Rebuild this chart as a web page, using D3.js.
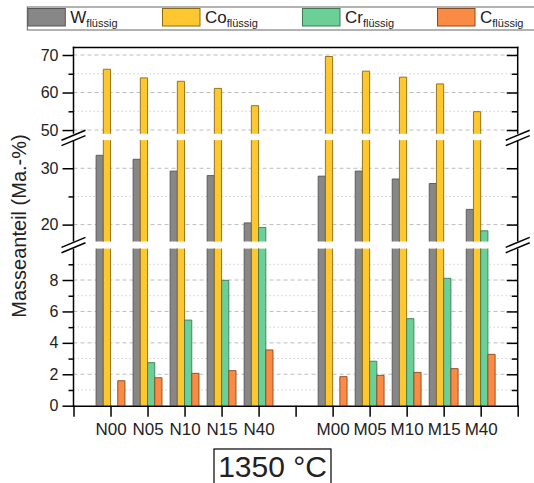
<!DOCTYPE html>
<html><head><meta charset="utf-8">
<script src="https://cdn.jsdelivr.net/npm/d3@7"></script>
<style>body{margin:0;background:#fff} svg{display:block} text{font-family:"Liberation Sans",Arial,sans-serif;fill:#222}</style>
</head><body><svg id="c" width="534" height="483"></svg>
<script>
// ---------- data ----------
const categories = ["N00","N05","N10","N15","N40","M00","M05","M10","M15","M40"];
const slots = ["s0","N00","N05","N10","N15","N40","s6","M00","M05","M10","M15","M40","s12"];
const seriesNames = ["W","Co","Cr","C"];
const W  = [32.3,31.6,29.5,28.7,20.3,28.6,29.5,28.1,27.3,22.7];
const Co = [66.2,63.9,63.0,61.1,56.5,69.6,65.7,64.1,62.3,54.9];
const Cr = [0,2.74,5.45,7.98,19.5,0,2.83,5.54,8.11,18.9];
const C  = [1.59,1.78,2.06,2.23,3.55,1.85,1.93,2.12,2.36,3.27];
const segDomains = [[0,10],[17,35],[49,72]];
const segMajor = [[0,2,4,6,8],[20,30],[50,60,70]];
const segMinor = [[1,3,5,7,9],[25],[55,65]];
const yLabel = "Masseanteil (Ma.-%)";
const tempLabel = "1350 °C";
const subLabel = "flüssig";

// ---------- layout ----------
const colors = ["#878787","#fdc82f","#6ccf97","#fa8b45"];
const strokes = ["#555","#8a6a12","#3d7a55","#8a4a20"];
const pLeft = 73.5, pRight = 517.7, pTop = 47.5, pBottom = 405.7;
const segRanges = [[pBottom,248.6],[241.5,140.1],[133.8,pTop]];
const svg = d3.select("#c");
const series = [W,Co,Cr,C];

const x = d3.scalePoint().domain(slots).range([pLeft,pRight]);
const bw = x.step()*0.195;
const ys = segDomains.map((d,i)=>d3.scaleLinear().domain(d).range(segRanges[i]));

// gridlines
ys.forEach((y,i)=>{
  svg.append("g").selectAll("line").data(segMajor[i].filter(v=>v>0)).join("line")
    .attr("x1",pLeft).attr("x2",pRight).attr("y1",d=>y(d)).attr("y2",d=>y(d))
    .attr("stroke","#bdbdbd").attr("stroke-width",1).attr("stroke-dasharray","4,3");
  svg.append("g").selectAll("line").data(segMinor[i]).join("line")
    .attr("x1",pLeft).attr("x2",pRight).attr("y1",d=>y(d)).attr("y2",d=>y(d))
    .attr("stroke","#d0d0d0").attr("stroke-width",1).attr("stroke-dasharray","1.5,2.5");
});

// bars
const bars = svg.append("g");
series.forEach((vals,s)=>{
  vals.forEach((v,i)=>{
    if(!(v>0)) return;
    const cx = x(categories[i]) + (s-2)*bw;
    ys.forEach((y,k)=>{
      const [d0,d1] = segDomains[k];
      if(v<=d0) return;
      const tv = Math.min(v,d1);
      const y0 = y(d0), y1 = y(tv);
      bars.append("rect").attr("x",cx).attr("y",y1).attr("width",bw).attr("height",y0-y1)
        .attr("fill",colors[s]);
      let p = `M${cx},${y0}V${y1}`;
      p += (v<=d1) ? `H${cx+bw}` : `M${cx+bw},${y1}`;
      p += `V${y0}`;
      bars.append("path").attr("d",p).attr("fill","none").attr("stroke",strokes[s]).attr("stroke-width",0.9);
    });
  });
});

// axes
ys.forEach((y,i)=>{
  const gL = svg.append("g").attr("transform",`translate(${pLeft},0)`)
    .call(d3.axisLeft(y).tickValues(segMajor[i]).tickSize(11).tickPadding(4).tickFormat(d3.format("d")));
  gL.select(".domain").remove();
  gL.selectAll("text").attr("font-size",16).attr("font-family","Liberation Sans, Arial, sans-serif").attr("fill","#222");
  gL.selectAll("line").attr("stroke","#000").attr("stroke-width",1.5);
  const gLm = svg.append("g").attr("transform",`translate(${pLeft},0)`)
    .call(d3.axisLeft(y).tickValues(segMinor[i]).tickSize(5).tickFormat(""));
  gLm.select(".domain").remove();
  gLm.selectAll("line").attr("stroke","#000").attr("stroke-width",1.5);
  const gR = svg.append("g").attr("transform",`translate(${pRight},0)`)
    .call(d3.axisRight(y).tickValues(segMajor[i].filter(v=>v>0)).tickSize(-11).tickFormat(""));
  gR.select(".domain").remove();
  gR.selectAll("line").attr("stroke","#000").attr("stroke-width",1.5);
  const gRm = svg.append("g").attr("transform",`translate(${pRight},0)`)
    .call(d3.axisRight(y).tickValues(segMinor[i]).tickSize(-6).tickFormat(""));
  gRm.select(".domain").remove();
  gRm.selectAll("line").attr("stroke","#000").attr("stroke-width",1.5);
  [pLeft,pRight].forEach(xx=>{
    svg.append("line").attr("x1",xx).attr("x2",xx).attr("y1",segRanges[i][0]+(i===0?0.75:0)).attr("y2",segRanges[i][1]-(i===2?0.75:0))
      .attr("stroke","#000").attr("stroke-width",1.5);
  });
});
// top frame
svg.append("line").attr("x1",pLeft-0.75).attr("x2",pRight+0.75).attr("y1",pTop).attr("y2",pTop).attr("stroke","#000").attr("stroke-width",1.5);

// x axis
const gx = svg.append("g").attr("transform",`translate(0,${pBottom})`)
  .call(d3.axisBottom(x).tickSize(11).tickPadding(6).tickFormat(d=>categories.includes(d)?d:""));
gx.select(".domain").attr("d",`M${pLeft-0.75},0.5H${pRight+0.75}`).attr("stroke","#000").attr("stroke-width",1.5);
gx.selectAll("line").attr("stroke","#000").attr("stroke-width",1.5);
gx.selectAll("text").attr("font-size",17).attr("font-family","Liberation Sans, Arial, sans-serif").attr("fill","#222");

// break marks
[ (segRanges[2][0]+segRanges[1][1])/2 + 1, (segRanges[1][0]+segRanges[0][1])/2 ].forEach(yc=>{
  [pLeft,pRight].forEach(xx=>{
    [-2.7,2.7].forEach(o=>{
      svg.append("line").attr("x1",xx-12).attr("y1",yc+5+o).attr("x2",xx+12).attr("y2",yc-5+o)
        .attr("stroke","#000").attr("stroke-width",1.5);
    });
  });
});

// y label
svg.append("text").attr("transform","translate(26,226) rotate(-90)").attr("text-anchor","middle")
  .attr("font-size",20).text(yLabel);

// legend
svg.append("rect").attr("x",27.3).attr("y",7).attr("width",520).attr("height",23)
  .attr("fill","none").attr("stroke","#666").attr("stroke-width",1);
const legX = [27.3,162,302,437];
seriesNames.forEach((n,i)=>{
  svg.append("rect").attr("x",legX[i]+0.5).attr("y",8.5).attr("width",37.5).attr("height",17.5)
    .attr("fill",colors[i]).attr("stroke",strokes[i]).attr("stroke-width",1);
  const t = svg.append("text").attr("x",legX[i]+43).attr("y",23.3).attr("font-size",17);
  t.append("tspan").text(n);
  t.append("tspan").attr("font-size",11).attr("dy",4).text(subLabel);
});

// temperature box
svg.append("rect").attr("x",214).attr("y",449).attr("width",117).attr("height",45)
  .attr("fill","none").attr("stroke","#000").attr("stroke-width",1.2);
svg.append("text").attr("x",272.5).attr("y",477).attr("text-anchor","middle").attr("font-size",30).text(tempLabel);
</script></body></html>
